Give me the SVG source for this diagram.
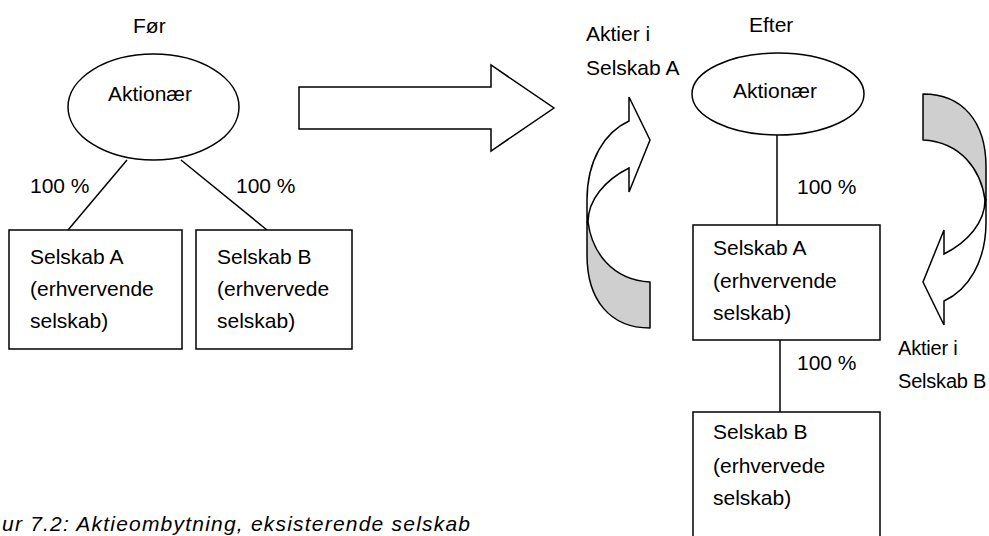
<svg xmlns="http://www.w3.org/2000/svg" xmlns:xlink="http://www.w3.org/1999/xlink" width="989" height="536" viewBox="0 0 989 536">
  <style>
    .shape { fill: #ffffff; stroke: #000000; stroke-width: 1.5; }
    .back { fill: #cfcfcf; stroke: #000000; stroke-width: 1.5; stroke-linejoin: round; }
    .front { fill: #ffffff; stroke: #000000; stroke-width: 1.5; stroke-linejoin: miter; }
    .link { fill: none; stroke: #000000; stroke-width: 1.5; }
    .t { font-family: "Liberation Sans", Arial, sans-serif; font-size: 21px; fill: #000000; }
    .mid { text-anchor: middle; }
    .cap { font-style: italic; }
    .edge { font-size: 20px; letter-spacing: -0.2px; }
  </style>
  <defs>
    <!-- Curved ribbon arrow: shaded back part of the band, then the white front part with the head -->
    <g id="curved-arrow">
      <path class="back" d="M587,222 L587,255 C587,300 610,328 650,328 L650,282 C612,280 592,252 588,222 Z"/>
      <path class="front" d="M629,121 L629,97 L650,140 L629,192 L629,168 C605,180 588,200 588,222 L587,222 L587,200 C587,160 605,132 629,121 Z"/>
    </g>
  </defs>

  <rect width="989" height="536" fill="#ffffff"/>

  <!-- Before -->
  <g id="before-title">
    <text class="t" x="133" y="33">Før</text>
  </g>

  <g id="connectors">
    <line class="link" x1="127" y1="160" x2="68" y2="230"/>
    <line class="link" x1="181" y1="160" x2="267" y2="230"/>
    <line class="link" x1="777" y1="135" x2="777" y2="225"/>
    <line class="link" x1="780" y1="340" x2="780" y2="412"/>
  </g>

  <g id="before-shareholder">
    <ellipse class="shape" cx="153.5" cy="107" rx="85.5" ry="53"/>
    <text class="t mid" x="150" y="101">Aktionær</text>
  </g>

  <g id="before-labels">
    <text class="t" x="30" y="193">100 %</text>
    <text class="t" x="236" y="193">100 %</text>
  </g>

  <g id="before-company-a">
    <rect class="shape" x="9" y="230" width="173" height="119"/>
    <text class="t" x="30" y="264">Selskab A</text>
    <text class="t" x="30" y="296">(erhvervende</text>
    <text class="t" x="30" y="328">selskab)</text>
  </g>

  <g id="before-company-b">
    <rect class="shape" x="196" y="230" width="156" height="119"/>
    <text class="t" x="217" y="264">Selskab B</text>
    <text class="t" x="217" y="296">(erhvervede</text>
    <text class="t" x="217" y="328">selskab)</text>
  </g>

  <!-- Transition -->
  <g id="transition-arrow">
    <polygon class="shape" points="299,87 491,87 491,65 554,108 491,151 491,129 299,129"/>
  </g>

  <!-- Share exchange -->
  <g id="shares-a">
    <text class="t" x="586" y="41">Aktier i</text>
    <text class="t" x="586" y="75">Selskab A</text>
    <use xlink:href="#curved-arrow"/>
  </g>

  <g id="shares-b">
    <use xlink:href="#curved-arrow" transform="rotate(180 786.5 211)"/>
    <text class="t edge" x="898" y="355">Aktier i</text>
    <text class="t edge" x="898" y="388">Selskab B</text>
  </g>

  <!-- After -->
  <g id="after-title">
    <text class="t" x="749" y="32">Efter</text>
  </g>

  <g id="after-shareholder">
    <ellipse class="shape" cx="778" cy="94" rx="86" ry="41"/>
    <text class="t mid" x="775" y="98">Aktionær</text>
  </g>

  <g id="after-labels">
    <text class="t" x="797" y="194">100 %</text>
    <text class="t" x="797" y="370">100 %</text>
  </g>

  <g id="after-company-a">
    <rect class="shape" x="693" y="225" width="187" height="115"/>
    <text class="t" x="713" y="255">Selskab A</text>
    <text class="t" x="713" y="288">(erhvervende</text>
    <text class="t" x="713" y="320">selskab)</text>
  </g>

  <g id="after-company-b">
    <rect class="shape" x="693" y="412" width="187" height="140"/>
    <text class="t" x="713" y="439">Selskab B</text>
    <text class="t" x="713" y="473">(erhvervede</text>
    <text class="t" x="713" y="505">selskab)</text>
  </g>

  <g id="caption">
    <text class="t cap" x="2" y="531" textLength="468" lengthAdjust="spacing">ur 7.2: Aktieombytning, eksisterende selskab</text>
  </g>
</svg>
